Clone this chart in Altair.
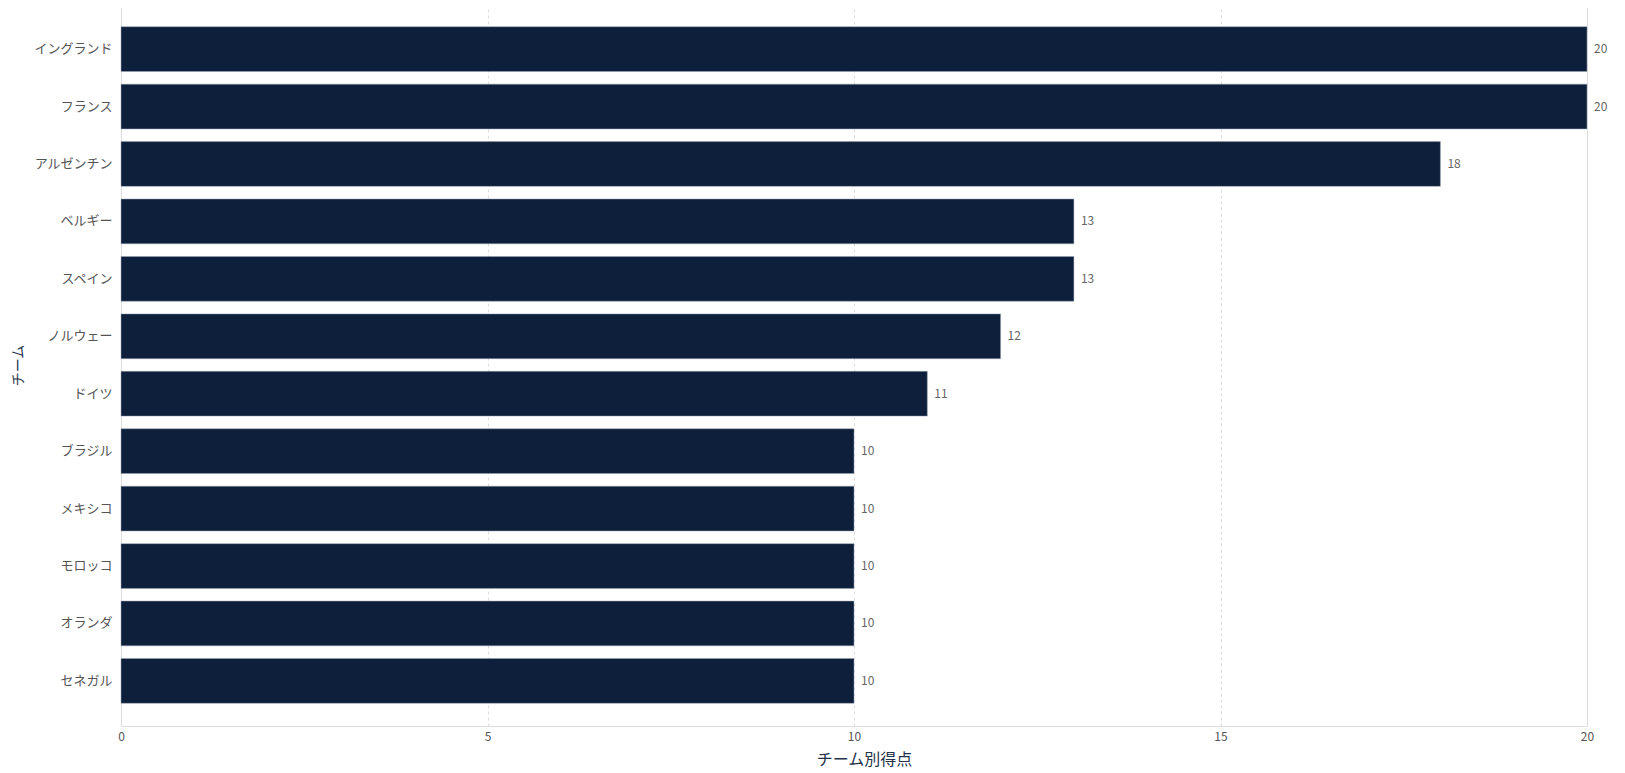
import altair as alt
import pandas as pd

teams = ["イングランド", "フランス", "アルゼンチン", "ベルギー", "スペイン", "ノルウェー",
         "ドイツ", "ブラジル", "メキシコ", "モロッコ", "オランダ", "セネガル"]
points = [20, 20, 18, 13, 13, 12, 11, 10, 10, 10, 10, 10]
x_ticks = [0, 5, 10, 15, 20]

df = pd.DataFrame({"team": teams, "points": points})

FONT = "Noto Sans CJK JP"
W, H = 1466, 722

y_enc = alt.Y(
    "team:N",
    sort=teams,
    title="チーム",
    scale=alt.Scale(paddingInner=0.22, paddingOuter=0.395),
    axis=alt.Axis(
        domain=False, ticks=False, grid=False,
        labelFont=FONT, labelFontSize=13, labelColor="#555555", labelPadding=9,
        titleFont=FONT, titleFontSize=14, titleFontWeight="normal", titleColor="#24324a",
        titleAngle=-90, titleX=-103, titleY=H / 2, titleAlign="center", titleBaseline="middle",
    ),
)

x_enc = alt.X(
    "points:Q",
    title="チーム別得点",
    scale=alt.Scale(domain=[0, 20], nice=False),
    axis=alt.Axis(
        values=x_ticks, format="d", labelFlush=False, domain=False, ticks=False,
        grid=True, gridColor="#dddddd", gridDash=[3, 3], gridWidth=1,
        labelFont=FONT, labelFontSize=12, labelColor="#555555", labelPadding=5,
        titleFont=FONT, titleFontSize=16, titleFontWeight="normal", titleColor="#24324a",
        titleX=W / 2 + 10, titleY=33.5, titleBaseline="middle", titleAlign="center",
    ),
)

bars = alt.Chart(df).mark_bar(
    color="#0d1f3a", stroke="#9aa5b4", strokeWidth=0.5
).encode(x=x_enc, y=y_enc)

labels = alt.Chart(df).mark_text(
    align="left", baseline="middle", dx=7, font=FONT, fontSize=12, color="#666666"
).encode(
    x=alt.X("points:Q"),
    y=alt.Y("team:N", sort=teams),
    text=alt.Text("points:Q"),
)

chart = (bars + labels).properties(
    width=W, height=H,
    autosize=alt.AutoSizeParams(type="none"),
    padding={"left": 113, "top": -4, "right": 30, "bottom": 45},
).configure_view(stroke=None).configure(background="white")

chart.save("out.html", embed_options={"renderer": "svg", "actions": False})
